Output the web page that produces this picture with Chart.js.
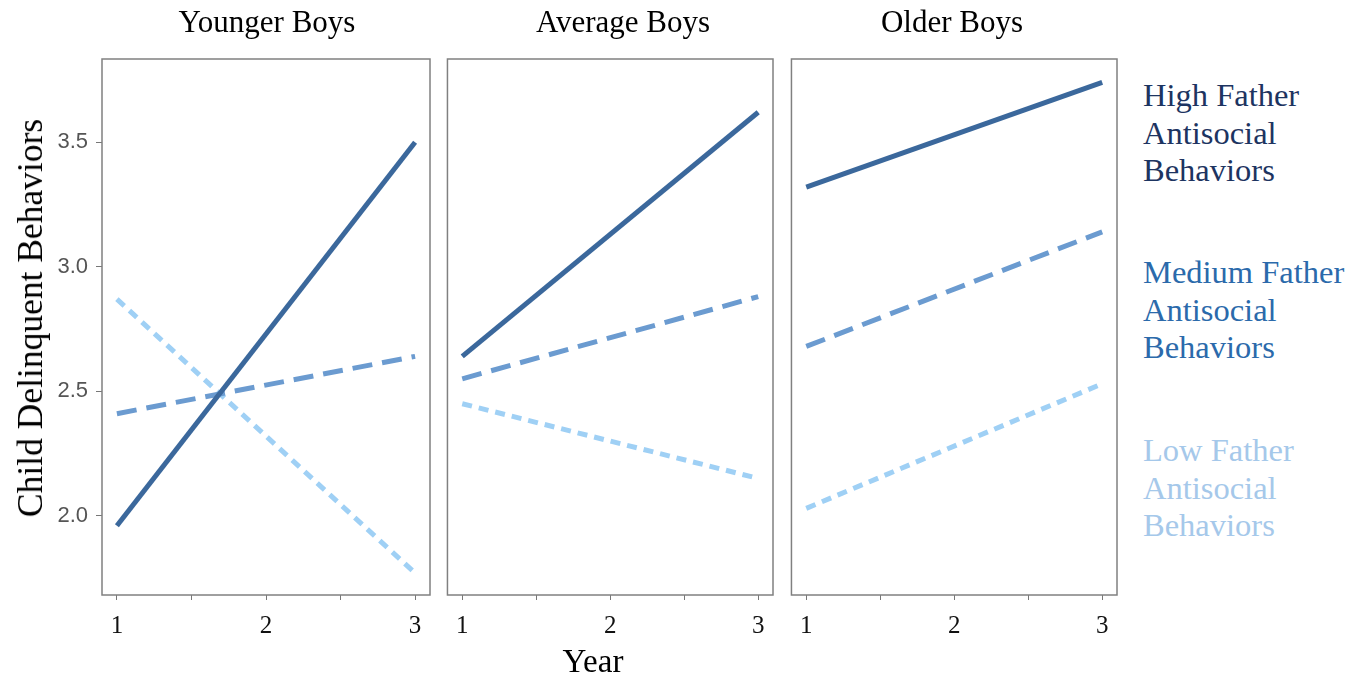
<!DOCTYPE html>
<html>
<head>
<meta charset="utf-8">
<script src="https://cdn.jsdelivr.net/npm/chart.js@4"></script>
<style>
  body { margin: 0; width: 1357px; height: 682px; background: #fff; position: relative; overflow: hidden; font-family: "Liberation Serif", "DejaVu Serif", serif; }
  canvas { position: absolute; top: 0; }
  .t { position: absolute; white-space: nowrap; color: #000; }
  .ptitle { font-size: 31px; top: 4px; transform: translateX(-50%); }
  .legend { position: absolute; left: 1143px; font-size: 32.5px; line-height: 37.5px; }
</style>
</head>
<body>
<canvas id="p0" width="398" height="650" style="left:42px"></canvas>
<canvas id="p1" width="338" height="650" style="left:445px"></canvas>
<canvas id="p2" width="338" height="650" style="left:789px"></canvas>

<div class="t ptitle" style="left:267px">Younger Boys</div>
<div class="t ptitle" style="left:623px">Average Boys</div>
<div class="t ptitle" style="left:952px">Older Boys</div>

<div class="t" style="left:30px; top:318px; font-size:35.5px; transform: translate(-50%,-50%) rotate(-90deg);">Child Delinquent Behaviors</div>
<div class="t" style="left:593px; top:643px; font-size:33px; transform: translateX(-50%);">Year</div>

<div class="legend" style="top:77px; color:#1d3461">High Father<br>Antisocial<br>Behaviors</div>
<div class="legend" style="top:254px; color:#2b6aab">Medium Father<br>Antisocial<br>Behaviors</div>
<div class="legend" style="top:432px; color:#a5c8ea">Low Father<br>Antisocial<br>Behaviors</div>

<script>
const panelTitles = ['Younger Boys', 'Average Boys', 'Older Boys'];
const years = [1, 3];
// one pair per panel: value at year 1, value at year 3
const highFather = [[1.96, 3.50], [2.64, 3.62], [3.32, 3.74]];
const mediumFather = [[2.41, 2.64], [2.55, 2.88], [2.68, 3.14]];
const lowFather = [[2.87, 1.77], [2.45, 2.15], [2.03, 2.53]];
const yTicks = [2.0, 2.5, 3.0, 3.5];
const xTicks = [1, 1.5, 2, 2.5, 3];

const panelBox = {
  id: 'panelBox',
  afterDatasetsDraw(chart) {
    const { ctx, chartArea: a } = chart;
    ctx.save();
    ctx.strokeStyle = '#808080';
    ctx.lineWidth = 1.5;
    ctx.strokeRect(a.left, a.top, a.right - a.left, a.bottom - a.top);
    ctx.restore();
  }
};

function pts(vals) {
  return years.map((x, i) => ({ x: x, y: vals[i] }));
}

function makePanel(idx) {
  const showY = idx === 0;
  new Chart(document.getElementById('p' + idx), {
    type: 'line',
    data: {
      datasets: [
        { label: 'High', data: pts(highFather[idx]), borderColor: '#3b689c', borderWidth: 5 },
        { label: 'Medium', data: pts(mediumFather[idx]), borderColor: '#6b9bd0', borderWidth: 5, borderDash: [20, 10] },
        { label: 'Low', data: pts(lowFather[idx]), borderColor: '#9fd0f5', borderWidth: 5, borderDash: [10, 7] }
      ]
    },
    options: {
      responsive: false,
      animation: false,
      elements: { point: { radius: 0 }, line: { tension: 0, borderCapStyle: 'butt' } },
      layout: { padding: { top: 59, right: 10, left: 0, bottom: 0 } },
      plugins: { legend: { display: false }, tooltip: { enabled: false }, title: { display: false } },
      scales: {
        x: {
          type: 'linear',
          min: 0.9,
          max: 3.1,
          afterBuildTicks: s => { s.ticks = xTicks.map(v => ({ value: v })); },
          afterFit: s => { s.height = 55; },
          grid: { drawOnChartArea: false, drawTicks: true, tickLength: 5, color: '#777', lineWidth: 1 },
          border: { display: false },
          ticks: {
            padding: 11,
            color: '#111',
            font: { family: 'Liberation Serif', size: 25 },
            maxRotation: 0,
            autoSkip: false,
            callback: v => Number.isInteger(v) ? String(v) : ''
          }
        },
        y: {
          display: showY,
          min: 1.682,
          max: 3.834,
          afterBuildTicks: s => { s.ticks = yTicks.map(v => ({ value: v })); },
          afterFit: s => { s.width = showY ? 60 : 0; },
          grid: { drawOnChartArea: false, drawTicks: true, tickLength: 6, color: '#777' },
          border: { display: false },
          ticks: {
            padding: 8,
            color: '#555',
            font: { family: 'Liberation Sans', size: 22 },
            callback: v => v.toFixed(1)
          }
        }
      }
    },
    plugins: [panelBox]
  });
}

[0, 1, 2].forEach(makePanel);
</script>
</body>
</html>
